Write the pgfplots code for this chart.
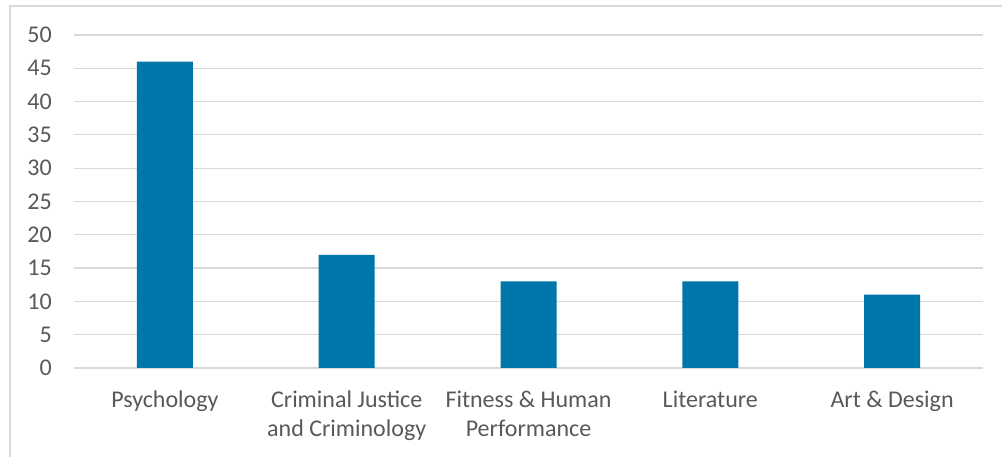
\documentclass[border=0pt]{standalone}
\usepackage{pgfplots}
\pgfplotsset{compat=1.18}
\usepackage{fontspec}
\setmainfont{Carlito}
\definecolor{barblue}{HTML}{0077AA}
\definecolor{gridgray}{HTML}{D9D9D9}
\definecolor{txtgray}{HTML}{595959}
\definecolor{framegray}{HTML}{D9D9D9}
\begin{document}
\begin{tikzpicture}[x=1pt,y=1pt]
\useasboundingbox (0,0) rectangle (1002,457);
\fill[white] (0,0) rectangle (1002,457);
\draw[framegray, line width=1.2pt] (10,-10) -- (10,451) -- (1012,451);
\begin{axis}[
  at={(74pt,89pt)}, anchor=south west,
  scale only axis, width=909pt, height=333pt,
  ymin=0, ymax=50, ytick={0,5,...,50},
  xmin=-0.5, xmax=4.5,
  xtick={0,1,2,3,4},
  xticklabels={{Psychology},{Criminal Justice\\and Criminology},{Fitness \& Human\\Performance},{Literature},{Art \& Design}},
  /pgf/number format/assume math mode=true,
  axis line style={draw=none},
  major tick length=0pt,
  ymajorgrids, grid style={gridgray, line width=1.2pt},
  tick label style={font=\fontsize{24}{28.5}\selectfont, text=txtgray},
  yticklabel style={anchor=east, inner sep=0pt, xshift=-22pt},
  xticklabel style={anchor=north, align=center, inner sep=0pt, yshift=-23pt},
  ybar, bar width=56pt,
  clip=false,
]
\addplot[fill=barblue, draw=none] coordinates {(0,46) (1,17) (2,13) (3,13) (4,11)};
\end{axis}
\end{tikzpicture}
\end{document}
